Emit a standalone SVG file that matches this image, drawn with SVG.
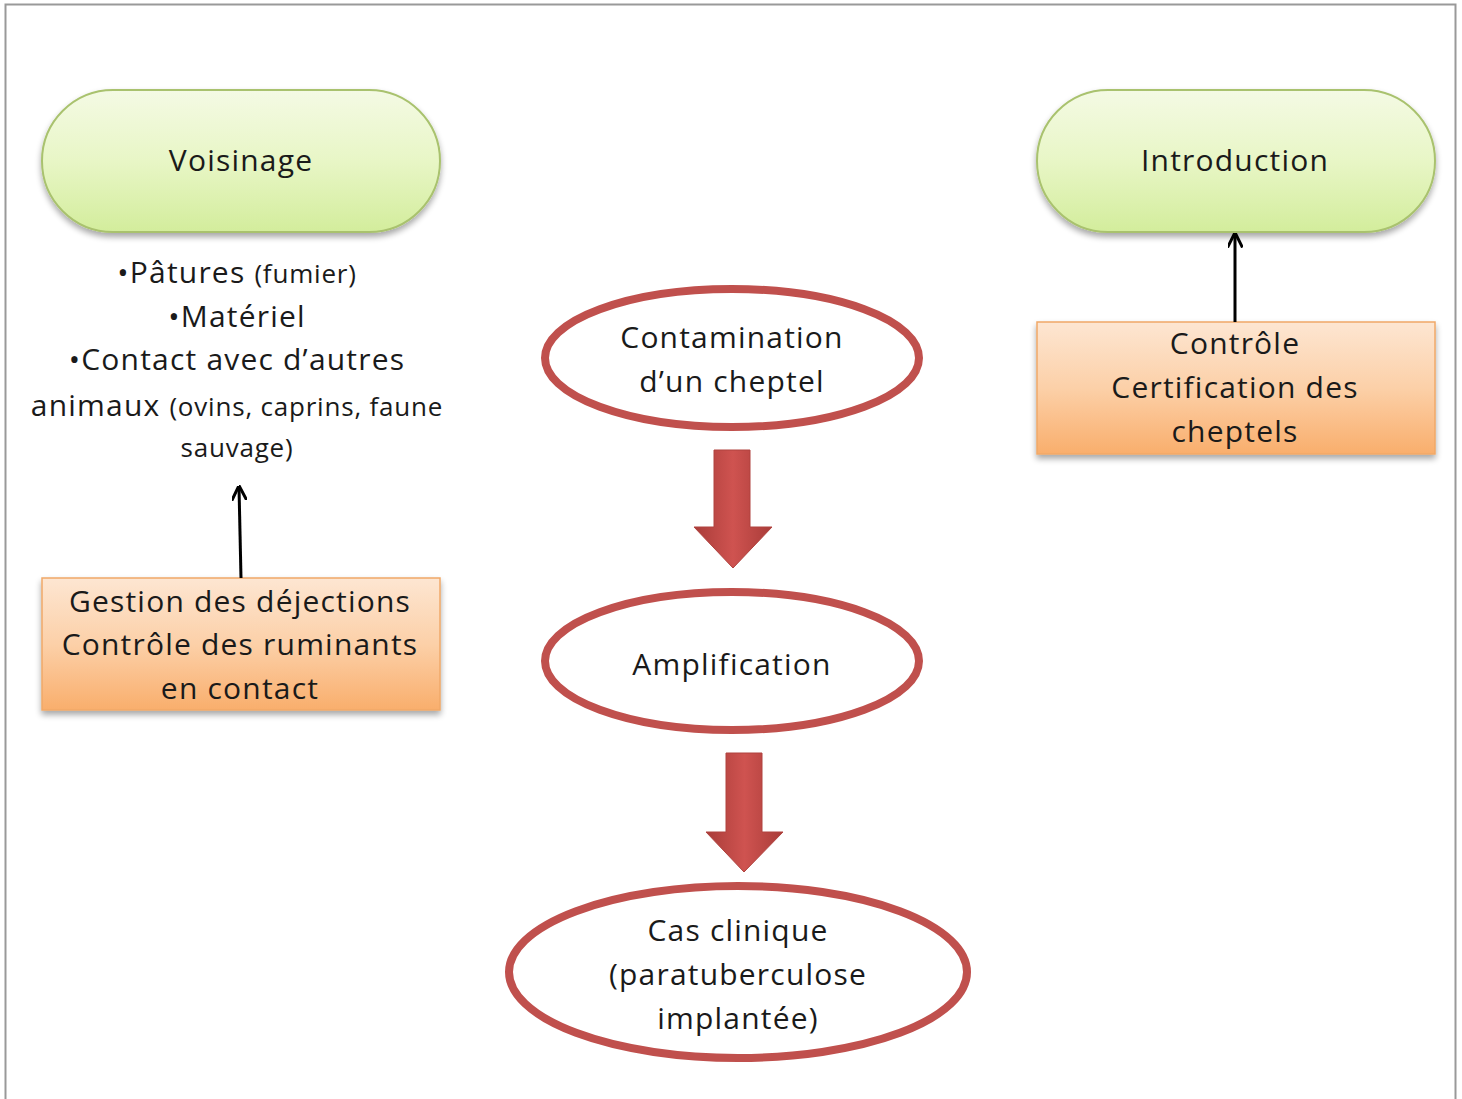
<svg xmlns="http://www.w3.org/2000/svg" width="1462" height="1099" viewBox="0 0 1462 1099">
<defs>
<linearGradient id="gGreen" x1="0" y1="0" x2="0" y2="1">
<stop offset="0" stop-color="#f4fae4"/>
<stop offset="0.5" stop-color="#e8f6c6"/>
<stop offset="1" stop-color="#d3ed9c"/>
</linearGradient>
<linearGradient id="gOrange" x1="0" y1="0" x2="0" y2="1">
<stop offset="0" stop-color="#fde6d2"/>
<stop offset="0.5" stop-color="#fcd0a8"/>
<stop offset="1" stop-color="#f9ae6c"/>
</linearGradient>
<linearGradient id="gRed" x1="0" y1="0" x2="1" y2="0">
<stop offset="0" stop-color="#a93c39"/>
<stop offset="0.5" stop-color="#cf5350"/>
<stop offset="1" stop-color="#a93c39"/>
</linearGradient>
<filter id="sh" x="-10%" y="-10%" width="120%" height="130%">
<feGaussianBlur in="SourceAlpha" stdDeviation="3"/>
<feOffset dx="0" dy="4" result="b"/>
<feComponentTransfer><feFuncA type="linear" slope="0.35"/></feComponentTransfer>
<feMerge><feMergeNode/><feMergeNode in="SourceGraphic"/></feMerge>
</filter>
<marker id="ah" viewBox="0 0 10 10" refX="9" refY="5" markerWidth="5" markerHeight="5" orient="auto">
<path d="M0,0 L10,5 L0,10" fill="none" stroke="#000" stroke-width="2"/>
</marker>
</defs>
<style>
text{font-family:"Open Sans","Liberation Sans",sans-serif;fill:#1a1a1a;text-anchor:middle;letter-spacing:1.2px}
.t{font-size:30px}
.s{font-size:26px;letter-spacing:0.8px}
.pill{fill:url(#gGreen);stroke:#a9c26e;stroke-width:2}
.box{fill:url(#gOrange);stroke:#f0a868;stroke-width:1.5}
.ell{fill:#fff;stroke:#c0504d;stroke-width:8}
.redarrow{fill:url(#gRed);stroke:#b0433f;stroke-width:1}
.conn{stroke:#000;stroke-width:3;fill:none}
</style>
<rect x="0" y="0" width="1462" height="1099" fill="#fff"/>
<path d="M5.5,1099 L5.5,4.5 L1455.5,4.5 L1455.5,1099" fill="none" stroke="#999" stroke-width="2"/>

<g id="voisinage">
<rect class="pill" x="42" y="90" width="398" height="142" rx="71" filter="url(#sh)"/>
<text class="t" x="241" y="171">Voisinage</text>
</g>

<g id="voisinage-list">
<text class="t" x="237" y="283">•Pâtures <tspan class="s">(fumier)</tspan></text>
<text class="t" x="237" y="327">•Matériel</text>
<text class="t" x="237" y="370">•Contact avec d’autres</text>
<text class="t" x="237" y="416">animaux <tspan class="s">(ovins, caprins, faune</tspan></text>
<text class="s" x="237" y="457">sauvage)</text>
</g>

<g id="gestion">
<rect class="box" x="42" y="578" width="398" height="132" filter="url(#sh)"/>
<text class="t" x="240" y="612">Gestion des déjections</text>
<text class="t" x="240" y="655">Contrôle des ruminants</text>
<text class="t" x="240" y="699">en contact</text>
</g>

<g id="introduction">
<rect class="pill" x="1037" y="90" width="398" height="142" rx="71" filter="url(#sh)"/>
<text class="t" x="1235" y="171">Introduction</text>
</g>

<g id="controle">
<rect class="box" x="1037" y="322" width="398" height="132" filter="url(#sh)"/>
<text class="t" x="1235" y="354">Contrôle</text>
<text class="t" x="1235" y="398">Certification des</text>
<text class="t" x="1235" y="442">cheptels</text>
</g>

<g id="contamination">
<ellipse class="ell" cx="732" cy="358" rx="187" ry="69"/>
<text class="t" x="732" y="348">Contamination</text>
<text class="t" x="732" y="392">d’un cheptel</text>
</g>

<g id="amplification">
<ellipse class="ell" cx="732" cy="661" rx="187" ry="69"/>
<text class="t" x="732" y="675">Amplification</text>
</g>

<g id="cas-clinique">
<ellipse class="ell" cx="738" cy="972" rx="229" ry="86"/>
<text class="t" x="738" y="941">Cas clinique</text>
<text class="t" x="738" y="985">(paratuberculose</text>
<text class="t" x="738" y="1029">implantée)</text>
</g>

<g id="connectors">
<line class="conn" x1="241" y1="578" x2="239" y2="487" marker-end="url(#ah)"/>
<line class="conn" x1="1235" y1="322" x2="1235" y2="234" marker-end="url(#ah)"/>
<path class="redarrow" d="M714,450 L750,450 L750,527 L772,527 L733,568 L694,527 L714,527 Z"/>
<path class="redarrow" d="M726,753 L762,753 L762,832 L783,832 L744,872 L706,832 L726,832 Z"/>
</g>
</svg>
